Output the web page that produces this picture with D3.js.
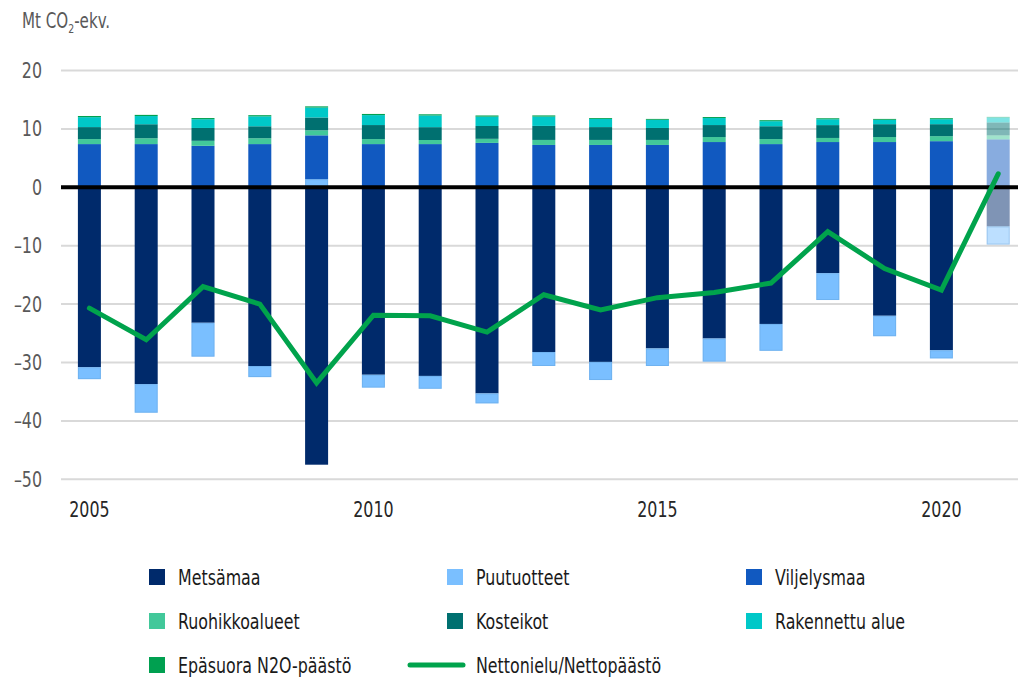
<!DOCTYPE html>
<html><head><meta charset="utf-8">
<script src="https://cdn.jsdelivr.net/npm/d3@7"></script>
<style>
body{margin:0;background:#fff;}
text{font-family:"DejaVu Sans Condensed","DejaVu Sans",sans-serif;}
</style></head>
<body><svg id="c" width="1018" height="677"></svg>
<script>
const years = [2005,2006,2007,2008,2009,2010,2011,2012,2013,2014,2015,2016,2017,2018,2019,2020,2021];
const metsamaa    = [-30.8,-33.7,-23.2,-30.6,-47.5,-32.1,-32.3,-35.3,-28.2,-29.9,-27.6,-25.9,-23.4,-14.7,-22.0,-27.9,-6.7];
const puutuotteet = [-2.05,-4.9,-5.8,-1.9,1.4,-2.2,-2.2,-1.7,-2.4,-3.1,-3.0,-3.95,-4.6,-4.6,-3.5,-1.4,-3.1];
const viljelysmaa = [7.4,7.4,7.1,7.4,7.5,7.4,7.4,7.6,7.25,7.25,7.25,7.75,7.4,7.75,7.75,7.9,8.2];
const ruohikko    = [0.86,1.0,0.86,1.0,0.86,0.86,0.7,0.7,0.86,0.86,0.86,0.86,0.86,0.7,0.86,0.86,0.7];
const kosteikot   = [2.05,2.4,2.2,2.05,2.2,2.4,2.2,2.2,2.4,2.2,2.05,2.05,2.2,2.2,2.2,2.05,2.2];
const rakennettu  = [1.7,1.4,1.5,1.7,1.7,1.7,2.0,1.6,1.6,1.4,1.4,1.2,0.86,1.0,0.75,0.85,0.86];
const n2o         = [0.2,0.2,0.2,0.2,0.2,0.2,0.2,0.2,0.2,0.15,0.15,0.17,0.17,0.17,0.15,0.17,0.1];
const netto       = [-20.7,-26.1,-17.0,-20.0,-33.5,-21.9,-22.0,-24.8,-18.4,-21.0,-18.9,-18.0,-16.4,-7.6,-13.9,-17.6,2.3];
const yTicks = [-50,-40,-30,-20,-10,0,10,20];
const xTickYears = [2005,2010,2015,2020];
const seriesNames = ["Metsämaa","Puutuotteet","Viljelysmaa","Ruohikkoalueet","Kosteikot","Rakennettu alue","Epäsuora N2O-päästö"];
const lineName = "Nettonielu/Nettopäästö";
const colors = ["#002a6b","#7abfff","#1159c0","#42c89a","#007070","#00c8c8","#00a050"];
const lineColor = "#00a34c";
const fadedYear = 2021;

const seriesData = [metsamaa,puutuotteet,viljelysmaa,ruohikko,kosteikot,rakennettu,n2o];
const table = years.map((y,i)=>{const o={year:y}; seriesNames.forEach((n,j)=>o[n]=seriesData[j][i]); return o;});

const SX = 0.84; // horizontal condensing to mimic narrow font
const svg = d3.select("#c");
const x = d3.scaleBand().domain(years).range([61, 61+17*56.8]).paddingInner(0.595).paddingOuter(0.2975);
const y = d3.scaleLinear().domain([-50,20]).range([479.3,70.5]);

// gridlines
svg.append("g").selectAll("line").data(yTicks.filter(d=>d!==0)).join("line")
  .attr("x1",61).attr("x2",1018).attr("y1",d=>y(d)).attr("y2",d=>y(d))
  .attr("stroke","#d9d9d9").attr("stroke-width",2);

// y tick labels
svg.append("g").selectAll("text").data(yTicks).join("text")
  .attr("transform",d=>`translate(42,${y(d)}) scale(${SX},1)`).attr("dy","0.36em").attr("text-anchor","end")
  .attr("font-size",21).attr("fill","#595959")
  .text(d=>d<0?"\u2013"+Math.abs(d):d);

// axis title
const t = svg.append("text").attr("transform",`translate(22,28) scale(0.8,1)`).attr("font-size",21).attr("fill","#595959");
t.append("tspan").text("Mt CO");
t.append("tspan").attr("font-size",13).attr("dy",5).text("2");
t.append("tspan").attr("dy",-5).text("-ekv.");

// stacked bars
const stack = d3.stack().keys(seriesNames).offset(d3.stackOffsetDiverging);
const layers = stack(table);
svg.append("g").selectAll("g").data(layers).join("g")
  .attr("fill",(d,i)=>colors[i])
  .selectAll("rect").data(d=>d).join("rect")
  .attr("x",d=>x(d.data.year)).attr("width",x.bandwidth())
  .attr("y",d=>y(Math.max(d[0],d[1]))).attr("height",d=>Math.abs(y(d[0])-y(d[1])))
  .attr("opacity",d=>d.data.year===fadedYear?0.5:1);

// puutuotteet subtle outline
svg.append("g").selectAll("rect").data(layers[1]).join("rect")
  .attr("x",d=>x(d.data.year)+0.5).attr("width",x.bandwidth()-1)
  .attr("y",d=>y(Math.max(d[0],d[1]))+0.5).attr("height",d=>Math.max(0,Math.abs(y(d[0])-y(d[1]))-1))
  .attr("fill","none").attr("stroke","#5b9bd5").attr("stroke-opacity",0.35).attr("stroke-width",1);

// zero line
svg.append("line").attr("x1",61).attr("x2",1018).attr("y1",y(0)).attr("y2",y(0))
  .attr("stroke","#000").attr("stroke-width",4);

// net line
const line = d3.line().x((d,i)=>x(years[i])+x.bandwidth()/2).y(d=>y(d));
svg.append("path").datum(netto).attr("d",line).attr("fill","none")
  .attr("stroke",lineColor).attr("stroke-width",5).attr("stroke-linejoin","miter").attr("stroke-linecap","round");

// x labels
svg.append("g").selectAll("text").data(xTickYears).join("text")
  .attr("transform",d=>`translate(${x(d)+x.bandwidth()/2},517) scale(${SX},1)`).attr("text-anchor","middle")
  .attr("font-size",21).attr("fill","#262626").text(d=>d);

// legend
const legendItems = [
  {name:seriesNames[0],color:colors[0],col:0,row:0},
  {name:seriesNames[1],color:colors[1],col:1,row:0},
  {name:seriesNames[2],color:colors[2],col:2,row:0},
  {name:seriesNames[3],color:colors[3],col:0,row:1},
  {name:seriesNames[4],color:colors[4],col:1,row:1},
  {name:seriesNames[5],color:colors[5],col:2,row:1},
  {name:seriesNames[6],color:colors[6],col:0,row:2},
  {name:lineName,color:lineColor,col:1,row:2,line:true}
];
const colX = [149,447,746];
const rowY = [577,621,665];
const lg = svg.append("g").selectAll("g").data(legendItems).join("g")
  .attr("transform",d=>`translate(${colX[d.col]},${rowY[d.row]})`);
lg.filter(d=>!d.line).append("rect").attr("x",0).attr("y",-8).attr("width",16).attr("height",16).attr("fill",d=>d.color);
lg.filter(d=>d.line).append("line").attr("x1",-37).attr("x2",16).attr("y1",0).attr("y2",0)
  .attr("stroke",d=>d.color).attr("stroke-width",5).attr("stroke-linecap","round");
lg.append("text").attr("transform",`translate(29,0) scale(${SX},1)`).attr("dy","0.36em").attr("font-size",21).attr("fill","#1a1a1a").text(d=>d.name);
</script></body></html>
